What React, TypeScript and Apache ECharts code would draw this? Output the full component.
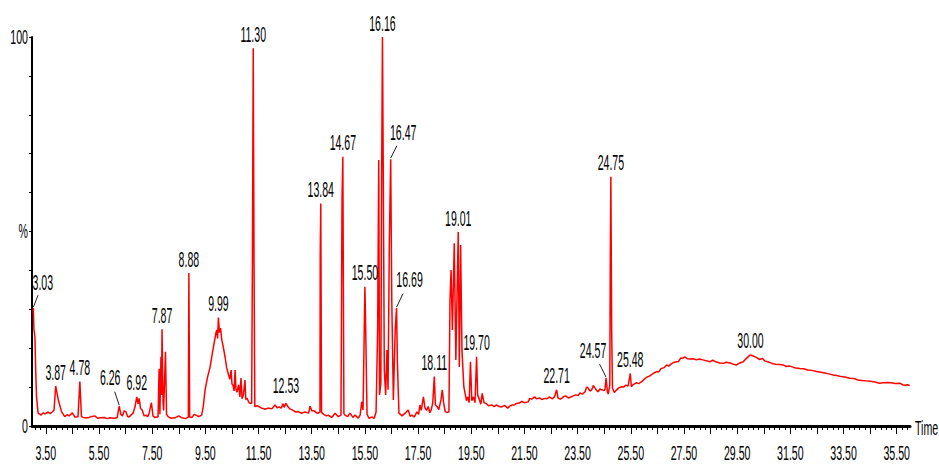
import React, { useEffect, useRef } from "react";
import * as echarts from "echarts";

// Retention times (min) of the trace
const traceTimes = [
  3.02, 3.03, 3.05, 3.09, 3.12, 3.15, 3.21, 3.32, 3.40, 3.47, 3.59, 3.66, 3.74, 3.81, 3.87, 3.97, 4.09, 4.21, 4.30, 4.38,
  4.50, 4.59, 4.71, 4.78, 4.84, 4.95, 5.09, 5.20, 5.34, 5.45, 5.54, 5.70, 5.80, 5.92, 6.05, 6.18, 6.26, 6.32, 6.38, 6.45,
  6.51, 6.57, 6.63, 6.70, 6.78, 6.85, 6.92, 6.97, 7.01, 7.06, 7.12, 7.20, 7.27, 7.33, 7.38, 7.47, 7.53, 7.60, 7.68, 7.72,
  7.76, 7.79, 7.83, 7.85, 7.87, 7.91, 7.93, 8.00, 8.04, 8.10, 8.20, 8.36, 8.50, 8.62, 8.75, 8.86, 8.88, 8.91, 9.00, 9.08,
  9.15, 9.25, 9.36, 9.42, 9.49, 9.58, 9.68, 9.76, 9.84, 9.90, 9.93, 9.96, 9.99, 10.03, 10.07, 10.12, 10.16, 10.24, 10.30, 10.36,
  10.42, 10.47, 10.50, 10.54, 10.58, 10.62, 10.65, 10.69, 10.75, 10.80, 10.84, 10.88, 10.93, 10.99, 11.02, 11.06, 11.15, 11.24, 11.27, 11.30,
  11.33, 11.36, 11.45, 11.62, 11.75, 11.86, 12.00, 12.12, 12.20, 12.27, 12.35, 12.42, 12.46, 12.53, 12.60, 12.68, 12.80, 12.90, 13.00, 13.10,
  13.25, 13.38, 13.44, 13.50, 13.59, 13.70, 13.75, 13.81, 13.82, 13.84, 13.87, 13.95, 14.05, 14.12, 14.25, 14.38, 14.50, 14.60, 14.64, 14.67,
  14.71, 14.75, 14.85, 14.94, 15.05, 15.13, 15.25, 15.32, 15.38, 15.43, 15.50, 15.53, 15.58, 15.65, 15.77, 15.85, 15.92, 15.98, 16.02, 16.05,
  16.10, 16.13, 16.16, 16.19, 16.23, 16.28, 16.33, 16.37, 16.42, 16.47, 16.51, 16.57, 16.64, 16.69, 16.72, 16.78, 16.90, 17.01, 17.13, 17.20,
  17.27, 17.35, 17.46, 17.52, 17.57, 17.62, 17.70, 17.76, 17.82, 17.88, 17.94, 17.99, 18.05, 18.11, 18.15, 18.22, 18.28, 18.36, 18.41, 18.46,
  18.52, 18.60, 18.66, 18.70, 18.74, 18.79, 18.86, 18.92, 19.01, 19.05, 19.10, 19.15, 19.22, 19.32, 19.37, 19.42, 19.47, 19.52, 19.58, 19.64,
  19.70, 19.74, 19.81, 19.86, 19.91, 19.98, 20.06, 20.15, 20.28, 20.36, 20.45, 20.55, 20.65, 20.75, 20.87, 20.95, 21.03, 21.12, 21.20, 21.31,
  21.40, 21.50, 21.64, 21.70, 21.78, 21.88, 21.95, 22.08, 22.15, 22.26, 22.35, 22.44, 22.55, 22.63, 22.71, 22.76, 22.85, 22.90, 22.98, 23.06,
  23.15, 23.27, 23.35, 23.44, 23.52, 23.59, 23.68, 23.78, 23.84, 23.89, 23.96, 24.03, 24.09, 24.15, 24.21, 24.27, 24.34, 24.41, 24.50, 24.53,
  24.57, 24.62, 24.65, 24.71, 24.73, 24.75, 24.78, 24.81, 24.88, 24.97, 25.05, 25.15, 25.23, 25.31, 25.40, 25.48, 25.52, 25.58, 25.70, 25.80,
  25.91, 26.00, 26.11, 26.20, 26.34, 26.47, 26.55, 26.63, 26.75, 26.85, 26.93, 27.01, 27.10, 27.22, 27.30, 27.38, 27.45, 27.53, 27.62, 27.72,
  27.85, 27.97, 28.08, 28.21, 28.33, 28.47, 28.58, 28.70, 28.84, 28.97, 29.10, 29.23, 29.35, 29.48, 29.60, 29.73, 29.82, 29.90, 30.00, 30.10,
  30.20, 30.35, 30.45, 30.54, 30.65, 30.73, 30.85, 30.95, 31.10, 31.23, 31.35, 31.48, 31.65, 31.85, 32.00, 32.16, 32.30, 32.49, 32.65, 32.80,
  32.95, 33.11, 33.25, 33.40, 33.55, 33.74, 33.90, 34.04, 34.20, 34.37, 34.52, 34.68, 34.85, 34.99, 35.15, 35.28, 35.45, 35.62, 35.72, 35.81,
  35.90, 35.99,
];

// Relative intensity (%) of the trace
const traceIntensity = [
  29.0, 30.3, 25.0, 22.9, 14.0, 7.5, 3.3, 2.8, 3.4, 3.1, 3.6, 3.2, 3.6, 4.1, 10.3, 6.7, 3.7, 2.4, 2.9, 2.6,
  3.4, 2.3, 2.4, 11.4, 2.4, 2.1, 2.1, 2.4, 2.6, 2.0, 2.1, 2.2, 1.9, 2.1, 2.0, 2.1, 5.1, 3.0, 2.6, 3.9,
  3.7, 2.5, 2.3, 2.8, 3.3, 4.8, 7.5, 5.7, 7.1, 4.6, 4.1, 2.6, 2.8, 2.4, 3.1, 6.0, 2.6, 2.2, 2.3, 2.3,
  14.7, 3.0, 17.8, 8.0, 24.9, 6.0, 4.0, 19.1, 3.0, 2.4, 2.0, 2.1, 2.6, 2.1, 1.9, 2.3, 39.3, 2.3, 2.2, 3.0,
  2.8, 2.4, 2.8, 5.0, 9.3, 12.5, 15.2, 18.6, 21.7, 24.0, 24.7, 22.5, 27.9, 24.0, 25.2, 22.0, 20.8, 17.8, 15.0, 13.5,
  12.0, 14.4, 10.8, 10.5, 9.0, 14.4, 9.5, 8.7, 10.6, 7.5, 12.3, 7.0, 8.0, 11.8, 6.8, 7.2, 5.9, 5.8, 42.7, 97.1,
  42.7, 5.0, 5.2, 4.6, 4.3, 4.6, 4.4, 5.4, 4.7, 4.9, 4.6, 5.7, 4.8, 5.8, 5.0, 4.4, 4.0, 3.6, 3.7, 3.3,
  3.6, 3.3, 5.1, 3.9, 3.9, 3.3, 3.3, 3.6, 44.5, 57.2, 3.5, 3.0, 2.6, 2.8, 2.2, 3.3, 2.4, 2.8, 58.1, 69.2,
  3.2, 2.8, 2.4, 3.3, 2.2, 2.8, 2.0, 2.8, 6.2, 4.1, 35.8, 24.7, 3.1, 2.0, 2.3, 2.0, 3.6, 25.0, 68.4, 8.0,
  11.0, 65.0, 100.0, 65.8, 14.4, 8.0, 19.5, 9.3, 47.8, 68.6, 32.4, 6.7, 24.7, 30.3, 17.0, 3.3, 2.6, 3.3, 4.1, 2.5,
  2.8, 2.3, 3.6, 3.0, 5.4, 4.0, 7.5, 4.6, 4.0, 5.0, 3.4, 4.1, 5.8, 12.7, 5.4, 5.0, 4.2, 6.7, 9.3, 6.0,
  3.7, 3.5, 3.6, 32.4, 40.1, 24.7, 47.0, 17.0, 49.9, 15.2, 46.5, 19.5, 10.1, 6.5, 7.5, 6.0, 16.5, 6.5, 7.5, 6.0,
  17.8, 8.0, 6.7, 5.6, 8.4, 6.0, 5.8, 5.2, 5.4, 5.0, 5.4, 5.0, 4.9, 5.3, 4.6, 5.1, 5.4, 5.4, 5.8, 5.9,
  6.3, 6.0, 6.2, 7.1, 6.9, 7.5, 7.0, 7.2, 6.8, 7.1, 7.0, 7.5, 7.0, 7.5, 9.3, 7.2, 6.9, 7.1, 7.6, 7.7,
  7.2, 7.5, 7.8, 8.0, 7.8, 8.5, 8.2, 8.8, 10.0, 9.8, 9.0, 9.3, 10.4, 9.8, 9.2, 8.8, 9.5, 9.3, 9.1, 9.5,
  12.3, 8.8, 8.2, 10.5, 45.0, 64.1, 24.7, 9.7, 8.6, 9.3, 9.8, 10.1, 10.0, 10.5, 10.3, 13.5, 10.1, 10.6, 11.1, 10.9,
  11.4, 12.0, 12.6, 12.8, 13.5, 14.0, 13.9, 14.7, 15.0, 15.7, 15.4, 15.9, 16.3, 16.5, 16.6, 17.5, 17.4, 17.8, 17.3, 17.2,
  17.3, 17.0, 17.2, 17.0, 16.8, 16.5, 16.9, 16.5, 16.2, 16.1, 16.4, 16.2, 15.9, 15.7, 16.2, 16.5, 17.2, 17.7, 18.3, 18.0,
  17.7, 17.1, 17.4, 16.7, 16.5, 16.3, 16.0, 15.9, 15.8, 15.7, 15.3, 15.4, 15.0, 14.8, 14.7, 14.4, 14.3, 14.0, 13.8, 13.6,
  13.4, 13.1, 13.0, 12.7, 12.6, 12.3, 12.2, 11.8, 11.7, 11.6, 11.5, 11.3, 11.0, 11.1, 11.2, 11.1, 10.9, 11.0, 10.6, 10.5,
  10.6, 10.4,
];

// Labelled peaks (retention times)
const peakTimes = [
  3.03, 3.87, 4.78, 6.26, 6.92, 7.87, 8.88, 9.99, 11.3, 12.53, 13.84, 14.67,
  15.5, 16.16, 16.47, 16.69, 18.11, 19.01, 19.7, 22.71, 24.57, 24.75, 25.48, 30.0,
];

// Axis tick labels
const xTickLabels = [
  "3.50", "5.50", "7.50", "9.50", "11.50", "13.50", "15.50", "17.50",
  "19.50", "21.50", "23.50", "25.50", "27.50", "29.50", "31.50", "33.50", "35.50",
];
const yTickLabels = ["0", "", "", "", "", "%", "", "", "", "", "100"];

// Peak labels set aside from their peak (px); those in leaderLabels get a leader line
const labelOffsets: Record<string, [number, number]> = {
  "3.03": [9.5, -26],
  "6.26": [-9, -29],
  "12.53": [0, -18],
  "16.47": [12.5, -27],
  "16.69": [13, -29],
  "24.57": [-13, -28],
};
const leaderLabels = ["3.03", "6.26", "16.47", "16.69", "24.57"];

const FONT = "normal normal 22px 'Liberation Sans', Arial, sans-serif";
const TICK_FONT = "normal normal 20px 'Liberation Sans', Arial, sans-serif";
const TEXT_SCALE = 0.48;
const TICK_SCALE = 0.53;
const X_MIN = 2.98;
const X_MAX = 36.0;

export default function App() {
  const ref = useRef<HTMLDivElement>(null);

  useEffect(() => {
    if (!ref.current) return;
    const chart = echarts.init(ref.current, null, { renderer: "svg" });

    const trace = traceTimes.map((t, i) => [t, traceIntensity[i]]);
    const peakValue = (t: number) => {
      let best = 0;
      for (let i = 1; i < traceTimes.length; i++) {
        if (Math.abs(traceTimes[i] - t) < Math.abs(traceTimes[best] - t)) best = i;
      }
      return traceIntensity[best];
    };

    const majorVals = xTickLabels.map((s) => parseFloat(s));
    const majorTicks: number[] = [];
    for (let k = 0; k <= 32; k++) majorTicks.push(+(3.5 + k).toFixed(2));
    const minorTicks: number[] = [];
    for (let k = 0; k <= 164; k++) {
      const v = +(3.1 + k * 0.2).toFixed(2);
      if (v <= X_MAX) minorTicks.push(v);
    }

    chart.setOption({
      animation: false,
      backgroundColor: "#fff",
      grid: { left: 32, right: 29, top: 37, bottom: 40, containLabel: false, outerBoundsMode: "none" },
      xAxis: [
        {
          type: "value",
          position: "bottom",
          min: X_MIN,
          max: X_MAX,
          axisLine: { show: true, lineStyle: { color: "#000", width: 3 } },
          axisTick: { show: true, length: 4, customValues: minorTicks, lineStyle: { color: "#000", width: 1 } },
          axisLabel: { show: false },
          splitLine: { show: false },
        },
        {
          type: "value",
          position: "bottom",
          min: X_MIN,
          max: X_MAX,
          axisLine: { show: false },
          axisTick: { show: true, length: 8, customValues: majorTicks, lineStyle: { color: "#000", width: 1 } },
          axisLabel: { show: false },
          splitLine: { show: false },
        },
      ],
      yAxis: {
        type: "value",
        min: 0,
        max: 100,
        interval: 10,
        axisLine: { show: true, lineStyle: { color: "#000", width: 2 } },
        axisTick: { show: true, length: 3, lineStyle: { color: "#000" } },
        axisLabel: { show: false },
        splitLine: { show: false },
      },
      series: [
        {
          type: "line",
          data: trace,
          xAxisIndex: 0,
          yAxisIndex: 0,
          symbol: "none",
          lineStyle: { color: "#ff0000", width: 1.5 },
          itemStyle: { color: "#ff0000" },
          z: 2,
        },
      ],
    });

    const toPx = (t: number, v: number) =>
      chart.convertToPixel({ xAxisIndex: 0, yAxisIndex: 0 }, [t, v]) as number[];

    const text = (
      s: string,
      x: number,
      y: number,
      align: "left" | "center" | "right" = "center",
      font = FONT,
      scale = TEXT_SCALE
    ) => ({
      type: "text",
      x,
      y,
      scaleX: scale,
      silent: true,
      z: 10,
      style: {
        text: s,
        font,
        fill: "#000",
        align,
        textAlign: align,
        verticalAlign: "middle",
        textVerticalAlign: "middle",
      },
    });

    const graphics: any[] = [];

    // x tick labels
    majorVals.forEach((v, i) => {
      const [px] = toPx(v, 0);
      graphics.push(text(xTickLabels[i], px, 453, "center", TICK_FONT, TICK_SCALE));
    });
    // y tick labels
    yTickLabels.forEach((s, i) => {
      if (!s) return;
      const [, py] = toPx(X_MIN, i * 10);
      graphics.push(text(s, 28, py, "right", TICK_FONT, TICK_SCALE));
    });
    // axis name
    const [endX, endY] = toPx(X_MAX, 0);
    graphics.push(text("Time", endX + 5, endY + 2, "left", TICK_FONT, TICK_SCALE));

    // peak labels
    peakTimes.forEach((t) => {
      const name = t.toFixed(2);
      const [px, py] = toPx(t, peakValue(t));
      const off = labelOffsets[name] || [0, -14];
      graphics.push(text(name, px + off[0], py + off[1]));
      if (leaderLabels.includes(name)) {
        graphics.push({
          type: "line",
          silent: true,
          z: 9,
          shape: { x1: px, y1: py - 1, x2: px + off[0] * 0.5, y2: py + off[1] * 0.5 },
          style: { stroke: "#222", lineWidth: 1 },
        });
      }
    });

    chart.setOption({ graphic: graphics });

    return () => chart.dispose();
  }, []);

  return (
    <div
      ref={ref}
      style={{ position: "fixed", left: 0, top: 0, width: 939, height: 466, background: "#fff" }}
    />
  );
}
